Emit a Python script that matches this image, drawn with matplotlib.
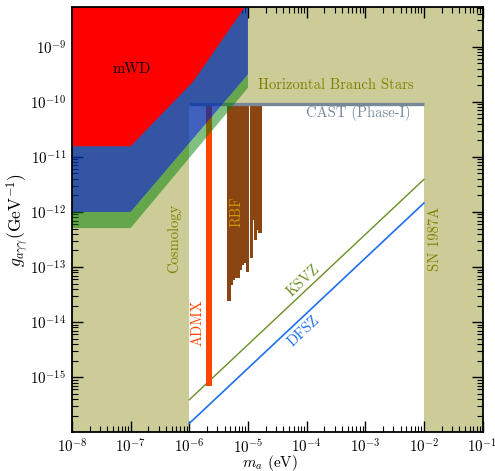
import numpy as np
import matplotlib
matplotlib.use("Agg")
import matplotlib.pyplot as plt
from matplotlib.ticker import FixedLocator, FuncFormatter, NullFormatter

plt.rcParams["mathtext.fontset"] = "cm"
plt.rcParams["font.family"] = "serif"
plt.rcParams["font.serif"] = ["cmr10", "DejaVu Serif"]
plt.rcParams["axes.unicode_minus"] = False
plt.rcParams["axes.formatter.use_mathtext"] = True

# ---------------- data ----------------
x_range = (1e-8, 1e-1)          # axion mass m_a [eV]
y_range = (1e-16, 5.2e-9)       # coupling g_agg [GeV^-1]

open_mass = (1e-6, 1e-2)        # window between Cosmology and SN 1987A
cast_limit = 9.2e-11            # CAST (Phase-I) upper bound

# QCD axion model lines: g = coeff * m_a
model_mass = [1e-6, 1e-2]
ksvz_coeff = 3.9e-10
dfsz_coeff = 1.45e-10

# ADMX exclusion
admx_mass = (1.94e-6, 2.43e-6)
admx_low = 7.0e-16

# RBF exclusion bins (mass low, mass high, lowest excluded coupling)
rbf_m_lo = [4.45e-6, 5.19e-6, 5.60e-6, 5.98e-6, 7.18e-6, 7.78e-6, 8.55e-6, 9.13e-6, 9.35e-6,
            1.10e-5, 1.216e-5, 1.264e-5, 1.40e-5, 1.50e-5]
rbf_m_hi = [5.19e-6, 5.60e-6, 5.98e-6, 7.18e-6, 7.78e-6, 8.55e-6, 9.13e-6, 9.35e-6, 1.04e-5,
            1.216e-5, 1.264e-5, 1.40e-5, 1.50e-5, 1.71e-5]
rbf_g_lo = [2.4e-14, 4.8e-14, 5.8e-14, 6.3e-14, 8.9e-14, 1.1e-13, 1.18e-13, 1.8e-13, 8.3e-14,
            1.46e-13, 7.2e-13, 3.13e-13, 4.77e-13, 4.15e-13]

# magnetic white dwarf bound (lower edge)
mwd_mass = [1e-8, 1e-7, 1.18e-6, 1.34e-5]
mwd_g = [1.56e-11, 1.56e-11, 2.37e-10, 1e-8]

# blue and green bands (lower edges), ending at m_a = 1e-5 eV
band_mass = [1e-8, 1e-7, 1e-5]
blue_g = [1e-12, 1e-12, 3.13e-10]
green_g = [5.1e-13, 5.1e-13, 1.8e-10]

x_ticks = [1e-8, 1e-7, 1e-6, 1e-5, 1e-4, 1e-3, 1e-2, 1e-1]
y_ticks = [1e-15, 1e-14, 1e-13, 1e-12, 1e-11, 1e-10, 1e-9]

khaki = "#CCCC99"
olive = "#808000"
ceiling = 1e-8

# ---------------- figure ----------------
fig = plt.figure(figsize=(4.95, 4.71), dpi=100)
ax = fig.add_axes([0.1455, 0.0822, 0.8293, 0.9023])
ax.set_xscale("log")
ax.set_yscale("log")
ax.set_xlim(*x_range)
ax.set_ylim(*y_range)
ax.set_facecolor(khaki)

# allowed window (white)
ax.fill([open_mass[0], open_mass[1], open_mass[1], open_mass[0]],
        [y_range[0], y_range[0], cast_limit, cast_limit],
        color="white", lw=0, zorder=1)

# model lines
mm = np.array(model_mass)
ax.plot(mm, ksvz_coeff * mm, color="#6B8E23", lw=1.0, zorder=2)
ax.plot(mm, dfsz_coeff * mm, color="#1F6FEE", lw=1.2, zorder=2)

# ADMX
ax.fill([admx_mass[0], admx_mass[1], admx_mass[1], admx_mass[0]],
        [admx_low, admx_low, cast_limit, cast_limit],
        color="#FF4500", lw=0, zorder=2)

# RBF
for m0, m1, g0 in zip(rbf_m_lo, rbf_m_hi, rbf_g_lo):
    ax.fill([m0, m1, m1, m0], [g0, g0, cast_limit, cast_limit],
            color="#8B4513", lw=0, zorder=2)

# CAST
ax.plot(open_mass, [cast_limit, cast_limit], color="#778899", lw=2.4,
        solid_capstyle="butt", zorder=3)

# blue band
bx = band_mass + [band_mass[-1], band_mass[0]]
by = blue_g + [ceiling, ceiling]
ax.fill(bx, by, color=(0.0, 0.176, 0.663), alpha=0.75, lw=0, zorder=4)

# green band
gx = band_mass + band_mass[::-1]
gy = green_g + blue_g[::-1]
ax.fill(gx, gy, color=(0.0, 0.5, 0.0), alpha=0.5, lw=0, zorder=4)

# mWD
rx = mwd_mass + [mwd_mass[0]]
ry = mwd_g + [ceiling]
ax.fill(rx, ry, color="#FF0000", lw=0, zorder=5)

# ---------------- labels ----------------
fs = 10.5
ax.text(1.03e-7, 3.9e-10, "mWD", fontsize=fs, color="black", ha="center", va="center", zorder=6)
ax.text(3.1e-4, 1.98e-10, "Horizontal Branch Stars", fontsize=fs, color=olive,
        ha="center", va="center", zorder=6)
ax.text(7.7e-4, 6.3e-11, "CAST (Phase-I)", fontsize=fs, color="#778899",
        ha="center", va="center", zorder=6)
ax.text(5.5e-7, 3.3e-13, "Cosmology", fontsize=fs, color=olive, rotation=90,
        ha="center", va="center", zorder=6)
ax.text(1.58e-2, 3.2e-13, "SN 1987A", fontsize=fs, color=olive, rotation=90,
        ha="center", va="center", zorder=6)
ax.text(6.5e-6, 1.03e-12, "RBF", fontsize=fs, color="#CC9900", rotation=90,
        ha="center", va="center", zorder=6)
ax.text(1.39e-6, 9.9e-15, "ADMX", fontsize=fs, color="#FF4500", rotation=90,
        ha="center", va="center", zorder=6)

# slope angle of the model lines on screen
p1 = ax.transData.transform((1e-5, ksvz_coeff * 1e-5))
p2 = ax.transData.transform((1e-3, ksvz_coeff * 1e-3))
ang = np.degrees(np.arctan2(p2[1] - p1[1], p2[0] - p1[0]))
ax.text(8.9e-5, 5.6e-14, "KSVZ", fontsize=fs, color="#6B8E23", rotation=ang,
        rotation_mode="anchor", ha="center", va="center", zorder=6)
ax.text(8.9e-5, 6.95e-15, "DFSZ", fontsize=fs, color="#1F6FEE", rotation=ang,
        rotation_mode="anchor", ha="center", va="center", zorder=6)

ax.set_xlabel(r"$m_a$ (eV)", fontsize=11)
ax.set_ylabel(r"$g_{a\gamma\gamma}(\mathrm{GeV}^{-1})$", fontsize=12.5)
ax.xaxis.label.set_va("center")
ax.yaxis.label.set_va("center")
ax.xaxis.set_label_coords(0.483, -0.0715)
ax.yaxis.set_label_coords(-0.133, 0.5)

# ---------------- ticks ----------------
def sci(v, pos):
    return r"$10^{%d}$" % int(round(np.log10(v)))

ax.xaxis.set_major_locator(FixedLocator(x_ticks))
ax.yaxis.set_major_locator(FixedLocator(y_ticks))
ax.xaxis.set_major_formatter(FuncFormatter(sci))
ax.yaxis.set_major_formatter(FuncFormatter(sci))

x_minor = [k * 10.0**e for e in range(-8, -1) for k in range(2, 10)]
y_minor = [k * 10.0**e for e in range(-16, -8) for k in range(2, 10)]
ax.xaxis.set_minor_locator(FixedLocator(x_minor))
ax.yaxis.set_minor_locator(FixedLocator(y_minor))
ax.xaxis.set_minor_formatter(NullFormatter())
ax.yaxis.set_minor_formatter(NullFormatter())

ax.tick_params(which="both", direction="in", top=True, right=True, labelsize=10.8)
ax.tick_params(which="major", length=8, width=1.0, pad=4.2)
ax.tick_params(which="minor", length=4, width=0.8)
for sp in ax.spines.values():
    sp.set_linewidth(1.3)
    sp.set_zorder(10)

fig.savefig("out.png", dpi=100)
